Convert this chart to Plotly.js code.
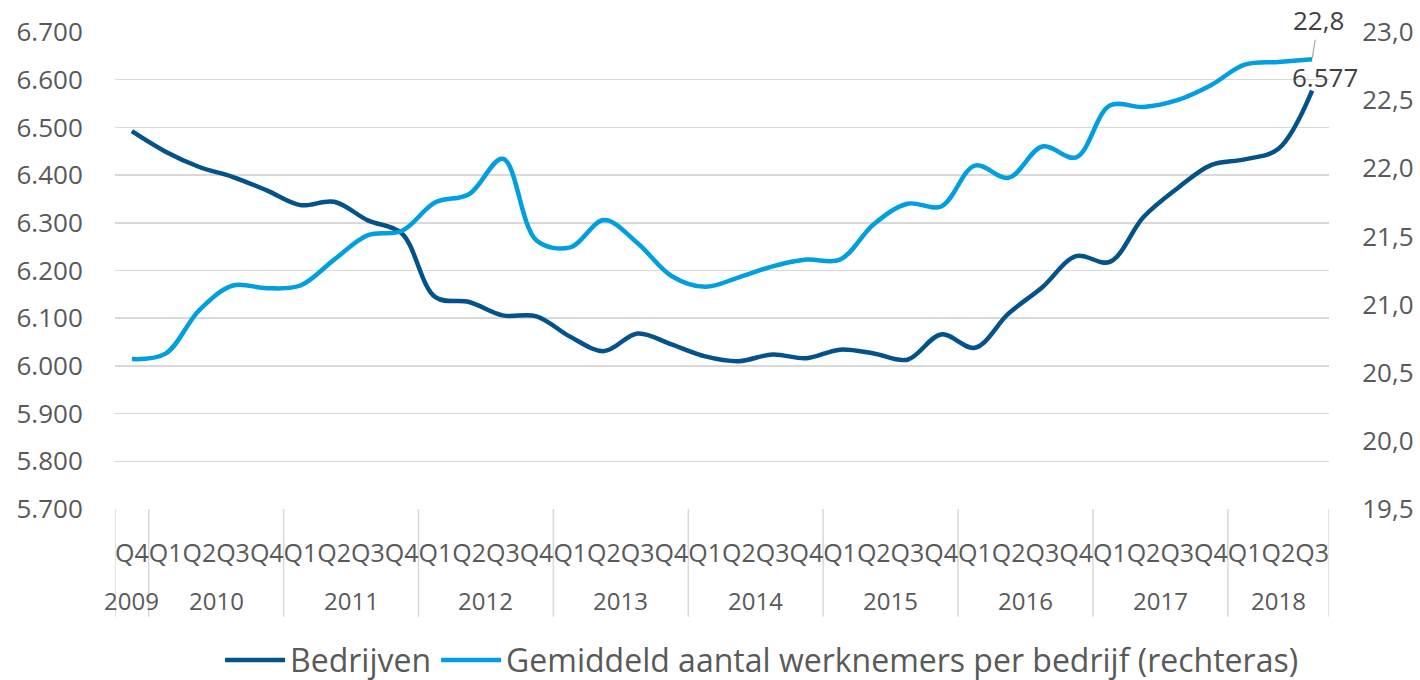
<!DOCTYPE html>
<html><head><meta charset="utf-8">
<script src="https://cdn.plot.ly/plotly-3.0.1.min.js"></script>
<style>html,body{margin:0;padding:0;background:#fff}</style>
</head><body><div id="chart" style="width:1420px;height:680px"></div>
<script>
const years = ['2009','2010','2010','2010','2010','2011','2011','2011','2011','2012','2012','2012','2012',
  '2013','2013','2013','2013','2014','2014','2014','2014','2015','2015','2015','2015',
  '2016','2016','2016','2016','2017','2017','2017','2017','2018','2018','2018'];
const quarters = ['Q4','Q1','Q2','Q3','Q4','Q1','Q2','Q3','Q4','Q1','Q2','Q3','Q4',
  'Q1','Q2','Q3','Q4','Q1','Q2','Q3','Q4','Q1','Q2','Q3','Q4',
  'Q1','Q2','Q3','Q4','Q1','Q2','Q3','Q4','Q1','Q2','Q3'];
const bedrijven = [6492, 6449, 6417, 6396, 6368, 6337, 6344, 6305, 6278, 6144, 6134, 6106, 6104,
  6061, 6031, 6068, 6045, 6020, 6010, 6024, 6016, 6034, 6026, 6013, 6066,
  6038, 6110, 6165, 6230, 6218, 6312, 6372, 6421, 6433, 6455, 6577];
const werknemers = [20.60, 20.64, 20.96, 21.14, 21.12, 21.14, 21.33, 21.51, 21.54, 21.75, 21.81, 22.07, 21.47,
  21.42, 21.62, 21.45, 21.21, 21.13, 21.20, 21.28, 21.33, 21.33, 21.59, 21.74, 21.72,
  22.02, 21.93, 22.16, 22.08, 22.46, 22.45, 22.50, 22.61, 22.76, 22.78, 22.80];
const seriesNames = ['Bedrijven', 'Gemiddeld aantal werknemers per bedrijf (rechteras)'];

// unique category keys built from year + quarter
const keys = years.map((y, i) => y + ' ' + quarters[i]);
const last = keys.length - 1;
const fmtThousands = v => String(Math.round(v)).replace(/\B(?=(\d{3})+(?!\d))/g, '.');
const fmtDec = v => v.toFixed(1).replace('.', ',');

// year groups (start index, end index) derived from the years array
const groups = [];
years.forEach((y, i) => {
  if (!groups.length || groups[groups.length - 1].year !== y) groups.push({year: y, start: i, end: i});
  else groups[groups.length - 1].end = i;
});

const textColor = '#595959';
const gridColor = '#d9d9d9';
const yearRowY = -0.191;    // paper units below the plot
const dividerBottom = -0.226;

const annotations = groups.map(g => ({
  x: (g.start + g.end) / 2, xref: 'x', y: yearRowY, yref: 'paper',
  text: g.year, showarrow: false, xanchor: 'center', yanchor: 'middle',
  font: {size: 24, color: textColor}
}));
annotations.push(
  {x: last, y: werknemers[last], xref: 'x', yref: 'y2', text: fmtDec(werknemers[last]), showarrow: true,
   arrowhead: 0, arrowwidth: 1.2, arrowcolor: '#a6a6a6', ax: 6, ay: -39, standoff: 1,
   font: {size: 26, color: '#404040'}},
  {x: last, y: bedrijven[last], xref: 'x', yref: 'y', text: fmtThousands(bedrijven[last]), showarrow: false,
   xanchor: 'center', yanchor: 'middle', xshift: 13, yshift: 14, font: {size: 26, color: '#404040'}}
);

const boundaries = groups.map(g => g.start - 0.5).concat([last + 0.5]);
const shapes = boundaries.map(b => ({
  type: 'line', xref: 'x', yref: 'paper', x0: b, x1: b, y0: 0, y1: dividerBottom,
  line: {color: gridColor, width: 1.5}, layer: 'below'
}));

const traces = [
  {x: keys, y: bedrijven, name: seriesNames[0], type: 'scatter', mode: 'lines',
   line: {color: '#03538A', width: 4.5, shape: 'spline', smoothing: 1}, yaxis: 'y', hoverinfo: 'skip'},
  {x: keys, y: werknemers, name: seriesNames[1], type: 'scatter', mode: 'lines',
   line: {color: '#019FE0', width: 4.5, shape: 'spline', smoothing: 1}, yaxis: 'y2', hoverinfo: 'skip'}
];

const layout = {
  width: 1420, height: 680,
  margin: {l: 115, r: 91, t: 32, b: 171, autoexpand: false},
  separators: ',.',
  font: {family: 'Open Sans, sans-serif', color: textColor},
  plot_bgcolor: '#fff', paper_bgcolor: '#fff',
  showlegend: true,
  legend: {orientation: 'h', x: 0.533, xanchor: 'center', y: -0.317, yanchor: 'middle',
    font: {size: 32, color: textColor}, itemwidth: 60, traceorder: 'normal'},
  xaxis: {type: 'category', range: [-0.5, last + 0.5], tickmode: 'array', tickvals: keys, ticktext: quarters,
    tickfont: {size: 25, color: textColor}, tickangle: 0, showgrid: false,
    ticks: 'outside', ticklen: 22, tickcolor: 'rgba(0,0,0,0)', showline: false, zeroline: false},
  yaxis: {range: [5700, 6700], dtick: 100, tick0: 5700, tickformat: ',d', gridcolor: gridColor, gridwidth: 1.5,
    zeroline: false, showline: false, tickfont: {size: 26, color: textColor},
    ticks: 'outside', ticklen: 26, tickcolor: 'rgba(0,0,0,0)'},
  yaxis2: {overlaying: 'y', side: 'right', range: [19.5, 23], dtick: 0.5, tick0: 19.5, tickformat: '.1f',
    showgrid: false, zeroline: false, showline: false, tickfont: {size: 26, color: textColor},
    ticks: 'outside', ticklen: 27, tickcolor: 'rgba(0,0,0,0)'},
  annotations: annotations,
  shapes: shapes
};
Plotly.newPlot('chart', traces, layout, {displayModeBar: false, staticPlot: true});
</script></body></html>
